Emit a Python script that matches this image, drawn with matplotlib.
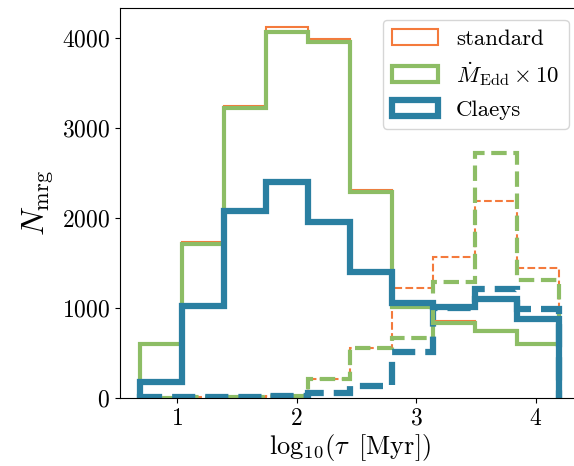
import numpy as np
import matplotlib
matplotlib.use("Agg")
import matplotlib.pyplot as plt

plt.rcParams["font.family"] = "serif"
plt.rcParams["font.serif"] = ["cmr10", "DejaVu Serif"]
plt.rcParams["mathtext.fontset"] = "cm"
plt.rcParams["axes.formatter.use_mathtext"] = True

# bin edges in log10(tau / Myr)
edges = [0.694, 1.044, 1.394, 1.744, 2.094, 2.444, 2.794, 3.144, 3.494, 3.844, 4.194]

# solid histograms
std_a = [600, 1730, 3241, 4115, 3989, 2307, 1030, 849, 750, 600]
edd_a = [593, 1704, 3215, 4067, 3955, 2289, 1011, 833, 744, 593]
cla_a = [180, 1022, 2078, 2393, 1956, 1393, 1056, 1011, 1097, 871]

# dashed histograms
std_b = [2, 3, 8, 20, 204, 549, 1216, 1560, 2186, 1438]
edd_b = [2, 3, 8, 15, 204, 549, 660, 1289, 2722, 1308]
cla_b = [5, 5, 8, 15, 55, 125, 511, 993, 1208, 982]

labels = ["standard", r"$\dot{M}_{\rm Edd}\times 10$", "Claeys"]
colors = ["#f47a3c", "#8dbd65", "#2a7fa1"]
widths = [1.5, 3.0, 4.5]

W, H = 574, 466
fig = plt.figure(figsize=(W / 100, H / 100), dpi=100)
ax = fig.add_axes([119.5 / W, 1 - 397.7 / H, (580 - 119.5) / W, (397.7 - 8.3) / H])

centers = [(a + b) / 2 for a, b in zip(edges[:-1], edges[1:])]
for vals, c, lw in zip([std_b, edd_b, cla_b], colors, widths):
    ax.hist(centers, bins=edges, weights=vals, histtype="step", color=c, lw=lw, ls="--")
for vals, c, lw, lab in zip([std_a, edd_a, cla_a], colors, widths, labels):
    ax.hist(centers, bins=edges, weights=vals, histtype="step", color=c, lw=lw, label=lab)

ax.set_xlim(0.519, 4.37)
ax.set_ylim(0, 4327)
ax.set_xticks([1, 2, 3, 4])
ax.set_yticks([0, 1000, 2000, 3000, 4000])
ax.tick_params(labelsize=17)
ax.set_xlabel(r"$\mathrm{log}_{10}(\tau\,$ [Myr]$)$", fontsize=19, labelpad=2)
ax.set_ylabel(r"$N_{\rm mrg}$", fontsize=23)
ax.legend(loc="upper right", fontsize=16.5)

fig.savefig("out.png", dpi=100)
